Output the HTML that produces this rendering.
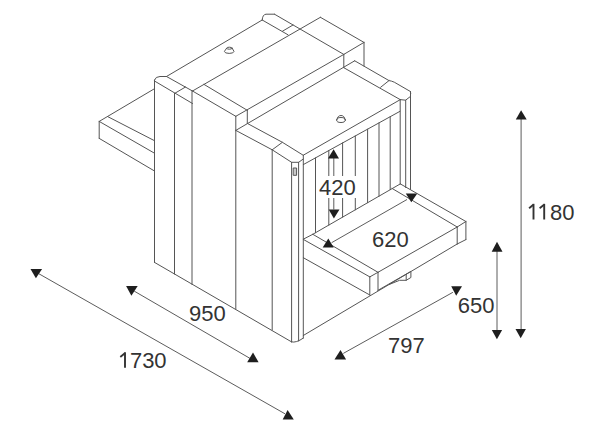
<!DOCTYPE html><html><head><meta charset="utf-8"><style>html,body{margin:0;padding:0;background:#fff;}svg{display:block;} .wrap{width:600px;height:430px;overflow:hidden;}</style></head><body>
<div class="wrap">
<svg width="600" height="430" viewBox="0 0 600 430">
<rect width="600" height="430" fill="#fff"/>
<g stroke="#555555" stroke-width="1.0" fill="none" stroke-linecap="round" stroke-linejoin="round">
<line x1="99.2" y1="121.4" x2="154.5" y2="88.7"/>
<line x1="107.5" y1="116.5" x2="154.5" y2="140.7"/>
<line x1="99.2" y1="121.4" x2="154.5" y2="153.2"/>
<line x1="99.2" y1="121.4" x2="99.2" y2="138.4"/>
<line x1="99.2" y1="138.4" x2="154.5" y2="171.0"/>
<line x1="154.5" y1="80.0" x2="154.5" y2="262.4"/>
<line x1="166.5" y1="76.5" x2="262.2" y2="20.0"/>
<line x1="166.5" y1="76.5" x2="192.5" y2="91.0"/>
<line x1="154.5" y1="81.0" x2="192.5" y2="103.5"/>
<line x1="174.5" y1="93.5" x2="174.5" y2="274.0"/>
<line x1="174.5" y1="93.5" x2="185.5" y2="87.0"/>
<line x1="192.0" y1="91.0" x2="192.0" y2="284.4"/>
<line x1="154.5" y1="262.4" x2="291.6" y2="341.9"/>
<line x1="274.5" y1="14.2" x2="343.8" y2="54.4"/>
<line x1="262.2" y1="20.0" x2="288.0" y2="34.8"/>
<line x1="282.5" y1="31.2" x2="293.0" y2="25.0"/>
<line x1="192.5" y1="91.0" x2="320.4" y2="17.3"/>
<line x1="320.4" y1="17.3" x2="364.0" y2="42.4"/>
<line x1="343.8" y1="54.4" x2="364.0" y2="42.4"/>
<line x1="343.8" y1="54.4" x2="343.8" y2="67.7"/>
<line x1="364.0" y1="42.4" x2="364.0" y2="66.0"/>
<line x1="192.5" y1="91.0" x2="235.8" y2="116.3"/>
<line x1="204.0" y1="84.4" x2="247.3" y2="110.3"/>
<line x1="235.8" y1="116.3" x2="235.8" y2="309.0"/>
<line x1="247.3" y1="110.3" x2="247.3" y2="123.4"/>
<line x1="235.8" y1="116.3" x2="343.8" y2="54.4"/>
<line x1="235.8" y1="130.4" x2="354.7" y2="60.8"/>
<line x1="272.2" y1="149.8" x2="282.4" y2="142.3"/>
<line x1="272.2" y1="149.8" x2="272.2" y2="330.0"/>
<line x1="291.6" y1="162.3" x2="291.6" y2="341.9"/>
<line x1="298.6" y1="162.3" x2="298.6" y2="341.0"/>
<line x1="303.3" y1="155.5" x2="303.3" y2="338.1"/>
<line x1="303.3" y1="155.2" x2="400.0" y2="99.8"/>
<line x1="303.3" y1="164.6" x2="400.0" y2="111.3"/>
<line x1="315.5" y1="157.9" x2="315.5" y2="232.7"/>
<line x1="328.8" y1="150.5" x2="328.8" y2="225.1"/>
<line x1="342.6" y1="142.9" x2="342.6" y2="217.1"/>
<line x1="355.3" y1="135.9" x2="355.3" y2="209.8"/>
<line x1="367.6" y1="129.2" x2="367.6" y2="202.7"/>
<line x1="379.0" y1="122.9" x2="379.0" y2="196.2"/>
<line x1="390.2" y1="116.7" x2="390.2" y2="189.7"/>
<line x1="303.3" y1="239.2" x2="312.8" y2="234.3"/>
<line x1="312.8" y1="234.3" x2="400.3" y2="183.9"/>
<line x1="400.2" y1="99.6" x2="400.2" y2="183.9"/>
<line x1="405.7" y1="100.2" x2="405.7" y2="187.5"/>
<line x1="410.5" y1="91.5" x2="410.5" y2="189.4"/>
<line x1="343.8" y1="67.7" x2="400.2" y2="99.6"/>
<line x1="380.6" y1="87.3" x2="389.0" y2="80.6"/>
<line x1="400.3" y1="183.9" x2="465.9" y2="221.5"/>
<line x1="392.0" y1="188.4" x2="457.2" y2="227.0"/>
<line x1="303.3" y1="239.4" x2="369.8" y2="276.9"/>
<line x1="312.8" y1="234.3" x2="378.0" y2="272.3"/>
<line x1="369.8" y1="276.9" x2="378.0" y2="272.3"/>
<line x1="369.8" y1="276.9" x2="369.8" y2="295.0"/>
<line x1="378.0" y1="272.3" x2="378.0" y2="290.6"/>
<line x1="303.3" y1="257.7" x2="369.8" y2="295.0"/>
<line x1="378.0" y1="272.3" x2="457.2" y2="227.0"/>
<line x1="457.2" y1="227.0" x2="457.2" y2="244.0"/>
<line x1="465.9" y1="221.5" x2="465.9" y2="239.6"/>
<line x1="457.2" y1="244.0" x2="465.9" y2="239.6"/>
<line x1="457.2" y1="227.0" x2="465.9" y2="221.5"/>
<line x1="303.3" y1="335.5" x2="457.2" y2="244.0"/>
<line x1="378.0" y1="290.3" x2="406.2" y2="274.1"/>
<path d="M154.5,80 Q155.5,76.5 160,76.5 L166.5,76.5"/>
<path d="M262.2,20 Q262.5,14.5 266,14.2 L274.5,14.2"/>
<path d="M247.3,123.4 L282.4,142.3 L303.3,155.3"/>
<path d="M235.8,130.4 L272.2,149.8 L291.6,162.3 L298.6,162.3 L303.3,159"/>
<path d="M291.6,341.9 Q296,343.2 303.3,338.1"/>
<path d="M354.7,60.8 L389,80.6 Q391.5,80.9 394.3,82.2 L410.4,91.5 L410.7,93.5"/>
<path d="M400.2,99.6 L405.6,100.2 L410.5,96.4"/>
<path d="M389.4,284.4 L399.6,280.3 L406.2,280.3 L410.9,277.5 L410.9,271.4 L406.2,274.1 L406.2,280.3"/>
<ellipse cx="229.4" cy="48.2" rx="2.8" ry="1"/><path d="M226.6,48.3 L224.4,51.4 Q224.6,53.4 229.2,53.4 Q233.8,53.4 234,51.4 L232.2,48.3"/>
<ellipse cx="341" cy="120" rx="4.4" ry="2.5"/><path d="M337,119.5 Q337.6,115.5 341,115.5 Q344.4,115.5 345,119.5"/>
<rect x="293.6" y="168" width="3" height="7.3" fill="#c8c8c8"/>
</g>
<g stroke="#4a4a4a" stroke-width="0.9" fill="none">
<line x1="38.6" y1="273.6" x2="285.0" y2="413.8"/>
<line x1="134.2" y1="291.1" x2="250.0" y2="358.4"/>
<line x1="343.3" y1="353.4" x2="452.9" y2="292.3"/>
<line x1="497.0" y1="251.0" x2="497.0" y2="330.0"/>
<line x1="521.1" y1="119.0" x2="521.1" y2="329.0"/>
<line x1="331.6" y1="242.7" x2="407.0" y2="199.5"/>
<line x1="333.8" y1="158.0" x2="333.8" y2="209.5"/>
</g><g fill="#1e1e1e">
<polygon points="35.9,278.3 30.5,269.0 42.1,269.0"/>
<polygon points="287.6,410.1 282.7,419.4 293.8,419.4"/>
<polygon points="131.4,295.8 126.1,286.0 137.7,286.0"/>
<polygon points="253.0,352.6 247.2,362.3 258.6,362.3"/>
<polygon points="340.5,350.1 334.5,359.5 346.1,359.5"/>
<polygon points="456.2,295.8 451.2,286.2 462.0,286.2"/>
<polygon points="497.0,241.8 491.7,251.8 502.5,251.8"/>
<polygon points="496.9,339.3 491.8,330.1 502.1,330.1"/>
<polygon points="521.1,110.2 515.8,119.5 526.7,119.5"/>
<polygon points="520.7,338.2 515.5,329.0 525.9,329.0"/>
<polygon points="328.3,238.5 322.7,247.4 333.7,247.4"/>
<polygon points="411.3,202.2 405.8,193.6 417.3,193.6"/>
<polygon points="333.6,149.3 328.0,158.5 339.0,158.5"/>
<polygon points="333.9,218.6 328.7,209.4 339.5,209.4"/>
</g>
<rect x="318" y="176" width="40" height="22" fill="#fff"/>
<g font-family="Liberation Sans, sans-serif" font-size="22" fill="#333">
<text x="129.9" y="368.0">730</text>
<text x="189.0" y="320.5">950</text>
<text x="388.0" y="352.5">797</text>
<text x="457.8" y="313.4">650</text>
<text x="549.9" y="219.6">80</text>
<text x="319.0" y="194.6">420</text>
<text x="372.0" y="247.0">620</text>
</g>
<path d="M125.00,352.30 L125.00,367.70" stroke="#333" stroke-width="1.9" fill="none"/><path d="M124.80,353.20 L120.30,357.00" stroke="#333" stroke-width="1.8" fill="none"/>
<path d="M533.50,203.80 L533.50,219.50" stroke="#333" stroke-width="1.9" fill="none"/><path d="M533.30,204.70 L529.10,208.20" stroke="#333" stroke-width="1.8" fill="none"/>
<path d="M544.20,203.80 L544.20,219.50" stroke="#333" stroke-width="1.9" fill="none"/><path d="M544.00,204.70 L539.60,208.20" stroke="#333" stroke-width="1.8" fill="none"/>
</svg></div></body></html>
